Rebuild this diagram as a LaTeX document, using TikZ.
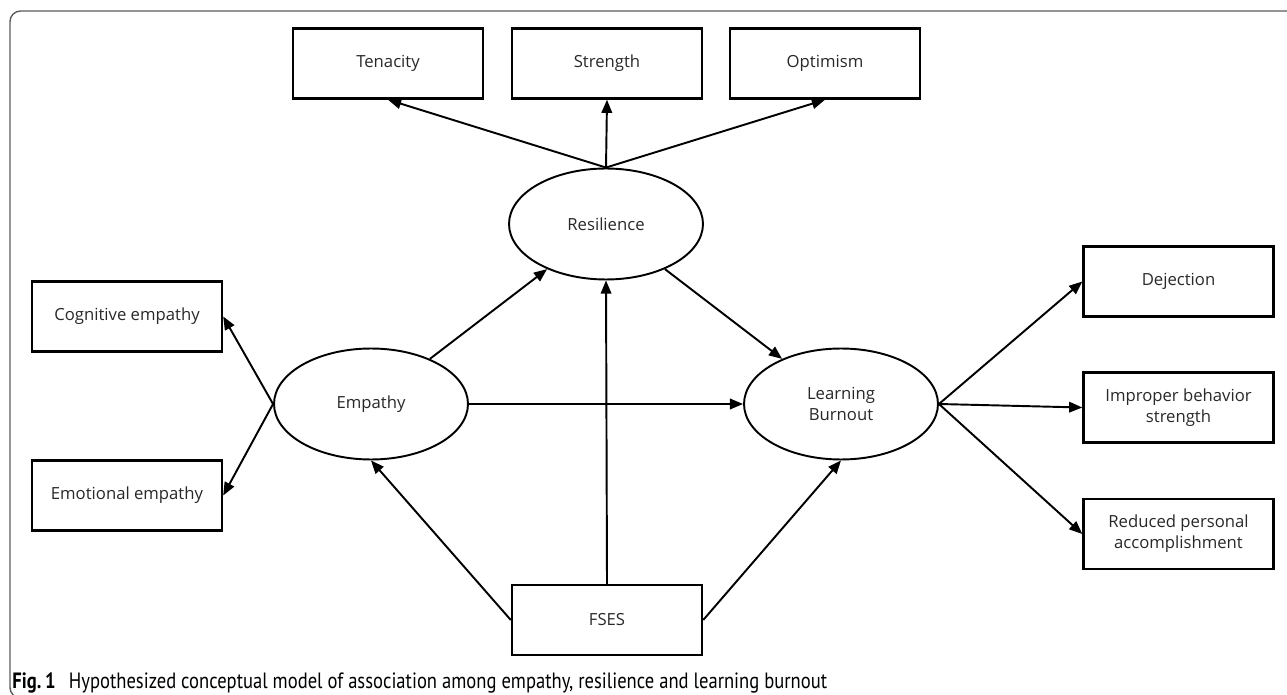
\documentclass[tikz,border=0pt]{standalone}
\usepackage{fontspec}
\setmainfont{Open Sans}
\newfontfamily\capfont[FakeStretch=0.84]{PT Sans}
\usepackage{xcolor}
\usepackage{tikz}
\usetikzlibrary{arrows.meta, positioning, shapes.geometric, calc}
\definecolor{fig_frame}{RGB}{90, 90, 90}
\definecolor{fig_text}{RGB}{40, 40, 40}

\begin{document}
\begin{tikzpicture}[
        x=0.02cm, y=-0.02cm,
        >={Triangle[length=7.5pt, width=6pt]},
        every node/.style={font=\fontsize{9.5}{12}\selectfont, text=fig_text},
        box/.style={draw=black, line width=1.4pt, minimum width=3.8cm, minimum height=1.4cm, align=center, inner sep=1pt},
        latent/.style={draw=black, line width=1.1pt, ellipse, minimum width=3.88cm, minimum height=2.22cm, align=center, inner sep=1pt},
        path/.style={draw=black, line width=1.1pt, ->},
      ]
        \useasboundingbox (0,0) rectangle (1287,695);
        \clip (0,0) rectangle (1287,695);
        \draw[fig_frame, line width=0.8pt, rounded corners=6pt] (10,11) rectangle (1310,698);

        \node[box]    (ten) at (388,63.5)   {Tenacity};
        \node[box]    (str) at (607,63.5)   {Strength};
        \node[box]    (opt) at (825,63.5)   {Optimism};
        \node[latent] (res) at (606,224)    {Resilience};
        \node[latent] (emp) at (371,404)    {Empathy};
        \node[latent] (lb)  at (841,404)    {Learning\\Burnout};
        \node[box]    (cog) at (127,316.5)  {Cognitive empathy};
        \node[box]    (emo) at (127,495.5)  {Emotional empathy};
        \node[box]    (dej) at (1178.5,281.5) {Dejection};
        \node[box]    (imp) at (1178.5,407.5) {Improper behavior\\strength};
        \node[box]    (red) at (1178.5,534) {Reduced personal\\accomplishment};
        \node[box]    (fses) at (607,620)   {FSES};

        \draw[path] (res.north) -- (ten.south);
        \draw[path] (res.north) -- (str.south);
        \draw[path] (res.north) -- (opt.south);
        \draw[path] (emp) -- (res);
        \draw[path] (emp) -- (lb);
        \draw[path] (res) -- (lb);
        \draw[path] (fses.north) -- (res.south);
        \draw[path] (fses.west) -- (emp.south);
        \draw[path] (fses.east) -- (lb.south);
        \draw[path] (emp.west) -- (cog.east);
        \draw[path] (emp.west) -- (emo.east);
        \draw[path] (lb.east) -- (dej.west);
        \draw[path] (lb.east) -- (imp.west);
        \draw[path] (lb.east) -- (red.west);

        \node[anchor=west, inner sep=0pt, font=\capfont\fontsize{12.6}{14}\selectfont, text=black] (cap) at (12,683)
          {\textbf{Fig.\,1}\hspace{0.6em}Hypothesized conceptual model of association among empathy, resilience and learning burnout};
      \end{tikzpicture}
\end{document}
